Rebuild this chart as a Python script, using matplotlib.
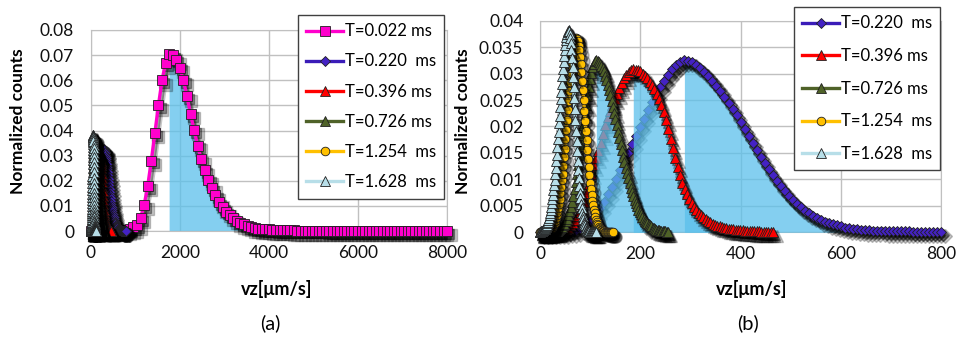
import numpy as np
import matplotlib
matplotlib.use("Agg")
import matplotlib.pyplot as plt
from matplotlib.transforms import offset_copy

plt.rcParams['font.family'] = ['Lato', 'DejaVu Sans']

# velocity bins [um/s], one set per delay time
vz_022 = np.arange(101) * 80.0
vz_220 = np.arange(101) * 8.0
vz_396 = np.arange(101) * 4.65
vz_726 = np.arange(101) * 2.55
vz_1254 = np.arange(101) * 1.45
vz_1628 = np.arange(101) * 1.12

# normalized counts
counts_022 = [0, 0, 0, 0, 0, 0, 0, 0.0001, 0.0002, 0.0004,
              0.0006, 0.0009, 0.0014, 0.0025, 0.0052, 0.0104, 0.0180, 0.0280, 0.0390, 0.0500,
              0.0600, 0.0668, 0.0703, 0.0700, 0.0682, 0.0650, 0.0600, 0.0537, 0.0466, 0.0402,
              0.0340, 0.0286, 0.0242, 0.0205, 0.0172, 0.0143, 0.0115, 0.0094, 0.0077, 0.0063,
              0.0050, 0.0039, 0.0031, 0.0026, 0.0020, 0.0015, 0.0012, 0.0010, 0.0009, 0.0008,
              0.0007, 0.0006, 0.0005, 0.0005, 0.0004, 0.0004, 0.0003, 0.0003,
              0.0002, 0.0002, 0.0002, 0.0002, 0.0002, 0.0002, 0.0002, 0.0002,
              0.0001, 0.0001, 0.0001, 0.0001, 0.0001, 0.0001, 0.0001, 0.0001,
              0.0001, 0.0001, 0.0001, 0.0001, 0.0001, 0.0001, 0.0001,
              0, 0, 0, 0, 0, 0, 0, 0, 0, 0, 0, 0, 0, 0, 0, 0, 0, 0, 0, 0]

counts_220 = [0, 0, 0, 0, 0, 0, 0, 0.0001,
              0.0002, 0.0004, 0.0008, 0.0013, 0.0019, 0.0026, 0.0034, 0.0045, 0.0058, 0.0072, 0.0086, 0.0101,
              0.0117, 0.0133, 0.0149, 0.0166, 0.0182, 0.0199, 0.0215, 0.0231, 0.0246, 0.0260,
              0.0274, 0.0286, 0.0298, 0.0308, 0.0316, 0.0322, 0.0325, 0.0324,
              0.0322, 0.0316, 0.0310, 0.0303, 0.0295, 0.0286, 0.0277, 0.0267, 0.0256, 0.0245,
              0.0233, 0.0221, 0.0208, 0.0195, 0.0182, 0.0169, 0.0156, 0.0143, 0.0131, 0.0119,
              0.0108, 0.0097, 0.0087, 0.0078, 0.0069, 0.0061, 0.0054, 0.0047, 0.0041, 0.0036,
              0.0031, 0.0027, 0.0023, 0.0020, 0.0017, 0.0015, 0.0013, 0.0011, 0.0009, 0.0008,
              0.0007, 0.0006, 0.0005, 0.0004, 0.0004, 0.0003, 0.0003, 0.0003,
              0.0002, 0.0002, 0.0002, 0.0002, 0.0002, 0.0002, 0.0002,
              0.0001, 0.0001, 0.0001, 0.0001, 0.0001, 0.0001, 0.0001, 0.0001]

counts_396 = [0, 0, 0, 0, 0, 0.0001, 0.0001, 0.0001,
              0.0002, 0.0003, 0.0005, 0.0007, 0.0009,
              0.0013, 0.0017, 0.0023, 0.0030, 0.0038, 0.0046, 0.0057,
              0.0074, 0.0092, 0.0111, 0.0127, 0.0141, 0.0154, 0.0168, 0.0185, 0.0202, 0.0217,
              0.0229, 0.0241, 0.0252, 0.0262, 0.0273, 0.0282, 0.0291, 0.0297, 0.0303, 0.0306,
              0.0308, 0.0307, 0.0306, 0.0304, 0.0300, 0.0296, 0.0292, 0.0285,
              0.0278, 0.0270, 0.0261, 0.0251, 0.0240, 0.0227, 0.0212, 0.0195, 0.0177, 0.0159,
              0.0141, 0.0124, 0.0108, 0.0094, 0.0082, 0.0072,
              0.0063, 0.0055, 0.0048, 0.0042, 0.0037, 0.0032, 0.0028, 0.0025, 0.0022, 0.0019,
              0.0016, 0.0014, 0.0012,
              0.0011, 0.0010, 0.0009, 0.0008, 0.0007, 0.0006, 0.0006, 0.0005, 0.0005, 0.0004, 0.0004,
              0.0003, 0.0003, 0.0003, 0.0002, 0.0002, 0.0002, 0.0002,
              0.0001, 0.0001, 0.0001, 0.0001, 0.0001, 0.0001]

counts_726 = [0, 0, 0, 0, 0, 0, 0, 0,
              0.0001, 0.0001, 0.0001, 0.0002, 0.0002, 0.0003, 0.0004, 0.0006, 0.0008, 0.0010, 0.0013, 0.0016,
              0.0021, 0.0026, 0.0032, 0.0040, 0.0048, 0.0058, 0.0069, 0.0082, 0.0096, 0.0111,
              0.0128, 0.0146, 0.0164, 0.0183, 0.0203, 0.0222, 0.0240, 0.0258, 0.0275, 0.0289,
              0.0302, 0.0312, 0.0319, 0.0324, 0.0325,
              0.0324, 0.0322, 0.0319, 0.0315, 0.0310, 0.0304, 0.0296, 0.0288, 0.0279, 0.0269,
              0.0259, 0.0248, 0.0237, 0.0226, 0.0214, 0.0202, 0.0190, 0.0178, 0.0166, 0.0155,
              0.0143, 0.0132, 0.0122, 0.0112, 0.0102, 0.0093, 0.0084, 0.0076, 0.0069, 0.0061,
              0.0055, 0.0049, 0.0043, 0.0038, 0.0034, 0.0029, 0.0026, 0.0022, 0.0019, 0.0017,
              0.0015, 0.0013, 0.0011, 0.0009, 0.0008, 0.0006,
              0.0005, 0.0004, 0.0004, 0.0003, 0.0003, 0.0002, 0.0002, 0.0002, 0.0001, 0.0001]

counts_1254 = [0, 0, 0, 0, 0, 0, 0.0001, 0.0001, 0.0001, 0.0001,
               0.0002, 0.0002, 0.0003, 0.0004, 0.0005, 0.0006, 0.0008, 0.0009, 0.0012, 0.0015,
               0.0018, 0.0022, 0.0027, 0.0032, 0.0038, 0.0046, 0.0054, 0.0063, 0.0074, 0.0085,
               0.0098, 0.0111, 0.0126, 0.0142, 0.0158, 0.0176, 0.0194, 0.0212, 0.0231, 0.0249,
               0.0267, 0.0284, 0.0301, 0.0316, 0.0330, 0.0342, 0.0352, 0.0359, 0.0365, 0.0367,
               0.0368,
               0.0366, 0.0361, 0.0353, 0.0344, 0.0332, 0.0318, 0.0303, 0.0286, 0.0268, 0.0250,
               0.0230, 0.0211, 0.0192, 0.0174, 0.0156, 0.0139, 0.0123, 0.0108, 0.0094, 0.0082,
               0.0070, 0.0060, 0.0051, 0.0043, 0.0036, 0.0029, 0.0024, 0.0020, 0.0016, 0.0013,
               0.0010, 0.0008, 0.0006, 0.0005,
               0.0004, 0.0003, 0.0002, 0.0002, 0.0001, 0.0001, 0.0001, 0.0001,
               0, 0, 0, 0, 0, 0, 0, 0]

counts_1628 = [0.0001, 0.0002, 0.0002, 0.0003, 0.0003, 0.0004, 0.0005, 0.0006, 0.0007, 0.0008,
               0.0010, 0.0012, 0.0014, 0.0017, 0.0020, 0.0024, 0.0027, 0.0032, 0.0036, 0.0042,
               0.0048, 0.0055, 0.0063, 0.0070, 0.0080, 0.0089, 0.0099, 0.0111, 0.0122, 0.0135,
               0.0147, 0.0162, 0.0177, 0.0190, 0.0206, 0.0220, 0.0236, 0.0251, 0.0266, 0.0281,
               0.0295, 0.0309, 0.0322, 0.0334, 0.0345, 0.0354, 0.0363, 0.0370, 0.0375, 0.0379,
               0.0381, 0.0382,
               0.0380, 0.0375, 0.0367, 0.0357, 0.0344, 0.0329, 0.0312, 0.0293, 0.0274, 0.0253,
               0.0233, 0.0212, 0.0192, 0.0172, 0.0153, 0.0135, 0.0118, 0.0102, 0.0088, 0.0075,
               0.0064, 0.0054, 0.0045, 0.0037, 0.0031, 0.0025, 0.0020, 0.0016, 0.0013, 0.0010,
               0.0008, 0.0006, 0.0005,
               0.0004, 0.0003, 0.0002, 0.0002, 0.0001, 0.0001, 0.0001, 0.0001,
               0, 0, 0, 0, 0, 0, 0, 0]

labels = ["T=0.022 ms", "T=0.220  ms", "T=0.396 ms", "T=0.726 ms", "T=1.254  ms", "T=1.628  ms"]

# line colour, marker, marker face, marker size
styles = [("#ff00cc", "s", "#ff00cc", 6.5),
          ("#3a1cb8", "D", "#4422c4", 5.2),
          ("#ff0000", "^", "#ff0000", 7),
          ("#4f6228", "^", "#4f6228", 7),
          ("#ffc000", "o", "#ffc000", 6.2),
          ("#b7dee8", "^", "#b7dee8", 7)]

series = [(vz_022, counts_022), (vz_220, counts_220), (vz_396, counts_396),
          (vz_726, counts_726), (vz_1254, counts_1254), (vz_1628, counts_1628)]

FILL = "#5bc0eb"
GRID = "#c0c0c0"


def draw(ax, k, z, filled):
    x, y = np.asarray(series[k][0]), np.asarray(series[k][1])
    col, mk, face, ms = styles[k]
    if filled:
        p = int(np.argmax(y))
        ax.fill_between(x[p:], y[p:], 0, color=FILL, alpha=0.75, lw=0, zorder=z)
    # soft drop shadow, two passes
    for dx, dy, a, grow in ((2.6, -3.2, 0.22, 1.8), (1.6, -2.0, 0.35, 0.6)):
        shadow = offset_copy(ax.transData, fig=ax.figure, x=dx, y=dy, units='points')
        ax.plot(x, y, color='k', lw=2.4, marker=mk, ms=ms + grow, mfc='k', mec='k',
                alpha=a, transform=shadow, zorder=z + 1, clip_on=False)
    ax.plot(x, y, color=col, lw=2.4, marker=mk, ms=ms, mfc=face, mec='#202020',
            mew=0.6, label=labels[k], zorder=z + 2, clip_on=False)


def style_axes(ax, xmax, xstep, ymax, ystep, yfmt):
    ax.set_xlim(0, xmax)
    ax.set_ylim(0, ymax)
    ax.set_xticks(np.arange(0, xmax + 1, xstep))
    yt = np.arange(0, ymax + ystep / 2, ystep)
    ax.set_yticks(yt)
    ax.set_yticklabels(["0"] + [yfmt(v) for v in yt[1:]])
    ax.grid(True, color=GRID, lw=1, zorder=0)
    ax.set_axisbelow(True)
    for s in ax.spines.values():
        s.set_color(GRID)
    ax.tick_params(length=0, labelsize=12.5, colors='#111111')
    ax.tick_params(axis='y', pad=12)
    ax.tick_params(axis='x', pad=10)


fig = plt.figure(figsize=(9.58, 3.37), dpi=100)

# (a) all delay times, wide velocity range
ax1 = fig.add_axes([0.0947, 0.3145, 0.372, 0.5965])
for k in range(6):
    draw(ax1, k, 2 + 3 * k, filled=(k == 0))
style_axes(ax1, 8000, 2000, 0.08, 0.01, lambda v: f"{v:.2f}")
ax1.legend(loc='upper left', bbox_to_anchor=(298 / 958, 1 - 15 / 337),
           bbox_transform=fig.transFigure, fontsize=12, frameon=True, fancybox=False,
           edgecolor='#404040', framealpha=1, borderpad=0.5, labelspacing=0.85,
           handlelength=2.2, handletextpad=0.1, borderaxespad=0).set_zorder(50)

# (b) longer delay times, zoom on 0-800 um/s
ax2 = fig.add_axes([0.5637, 0.3107, 0.4186, 0.628])
for k in range(1, 6):
    draw(ax2, k, 2 + 3 * k, filled=(k <= 3))
style_axes(ax2, 800, 200, 0.04, 0.005, lambda v: f"{v:.3f}".rstrip('0'))
ax2.legend(loc='upper left', bbox_to_anchor=(794 / 958, 1 - 7 / 337),
           bbox_transform=fig.transFigure, fontsize=12, frameon=True, fancybox=False,
           edgecolor='#404040', framealpha=1, borderpad=0.5, labelspacing=1.0,
           handlelength=2.2, handletextpad=0.1, borderaxespad=0).set_zorder(50)

for xc in (18.3 / 958, 463 / 958):
    fig.text(xc, 0.641, "Normalized counts", rotation=90, ha='center', va='center',
             fontsize=12.5, fontweight='bold')
for xc in (277 / 958, 752 / 958):
    fig.text(xc, 1 - 289 / 337, "vz[μm/s]", ha='center', va='center',
             fontsize=13, fontweight='bold')
fig.text(270 / 958, 1 - 323 / 337, "(a)", ha='center', va='center', fontsize=14.5)
fig.text(748 / 958, 1 - 323 / 337, "(b)", ha='center', va='center', fontsize=14.5)

fig.savefig("out.png", dpi=100)
